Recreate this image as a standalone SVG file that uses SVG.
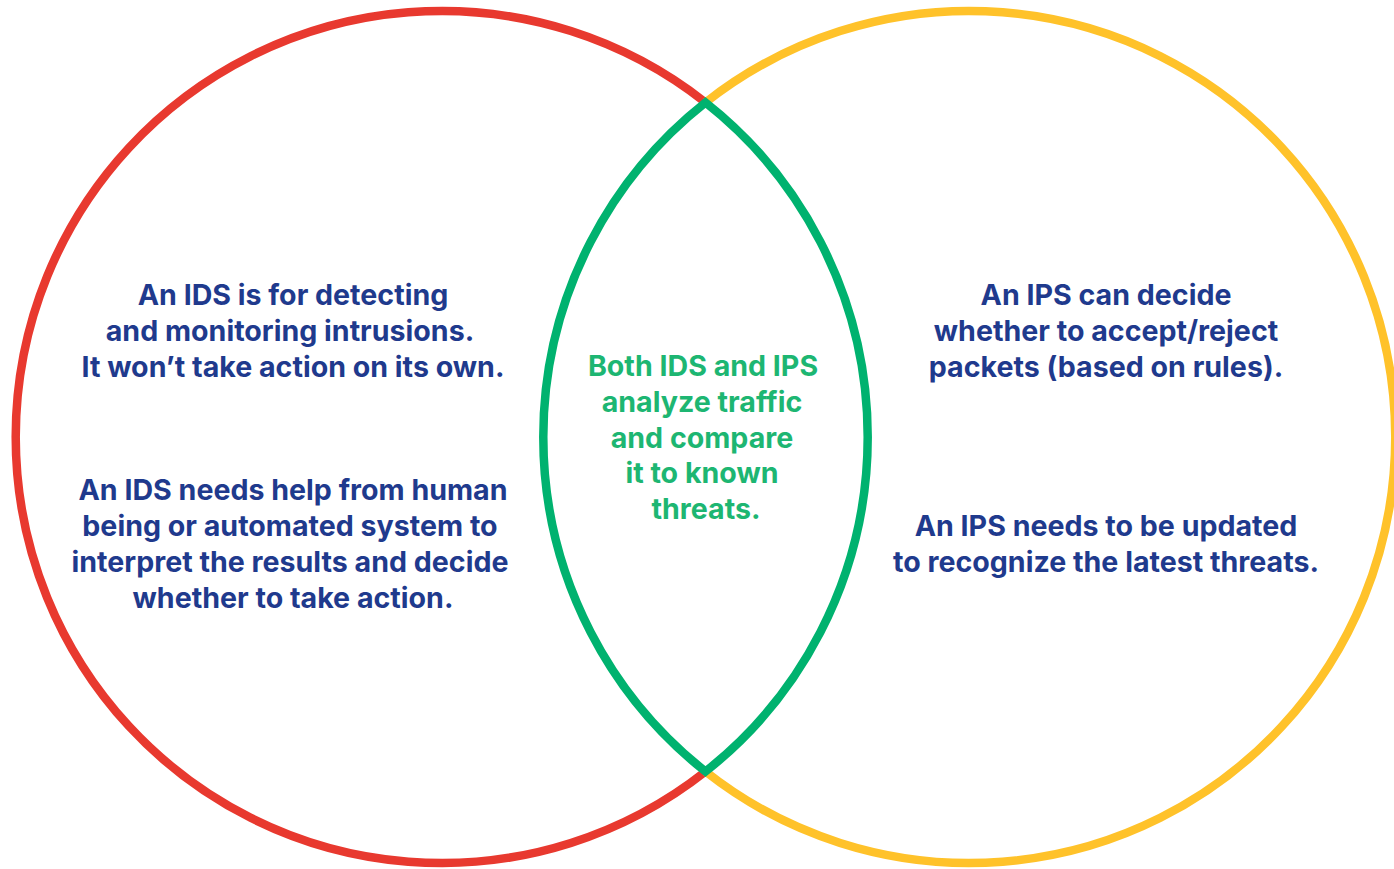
<svg xmlns="http://www.w3.org/2000/svg" width="1394" height="869" viewBox="0 0 1394 869">
<style>
.ring{fill:none;stroke-width:8.5}
.t{font-family:Inter,"Open Sans","Liberation Sans",sans-serif;font-weight:700;font-size:28.6px;fill:#1f3a8d;text-anchor:middle}
.g{fill:#1db672}
</style>
<rect width="1394" height="869" fill="#ffffff"/>
<g id="circles">
<path id="ids" class="ring" stroke="#e8392f" d="M705.5 102.5 A426 426 0 1 0 705.5 771.5"/>
<path id="ips" class="ring" stroke="#ffc22a" d="M705.5 102.5 A426 426 0 1 1 705.5 771.5"/>
<path id="both" class="ring" stroke="#00b26f" d="M705.5 102.5 A426 426 0 0 1 705.5 771.5 A426 426 0 0 1 705.5 102.5 Z"/>
</g>
<g id="ids-text">
<text class="t" x="293" y="305">An IDS is for detecting</text>
<text class="t" x="290" y="341">and monitoring intrusions.</text>
<text class="t" x="293" y="377">It won’t take action on its own.</text>
<text class="t" x="293" y="500">An IDS needs help from human</text>
<text class="t" x="290" y="536">being or automated system to</text>
<text class="t" x="290" y="572">interpret the results and decide</text>
<text class="t" x="293" y="608">whether to take action.</text>
</g>
<g id="both-text">
<text class="t g" x="703" y="376">Both IDS and IPS</text>
<text class="t g" x="702" y="412">analyze traffic</text>
<text class="t g" x="702" y="448">and compare</text>
<text class="t g" x="702" y="483">it to known</text>
<text class="t g" x="706" y="519">threats.</text>
</g>
<g id="ips-text">
<text class="t" x="1106" y="305">An IPS can decide</text>
<text class="t" x="1106" y="341">whether to accept/reject</text>
<text class="t" x="1106" y="377">packets (based on rules).</text>
<text class="t" x="1106" y="536">An IPS needs to be updated</text>
<text class="t" x="1106" y="572">to recognize the latest threats.</text>
</g>
</svg>
